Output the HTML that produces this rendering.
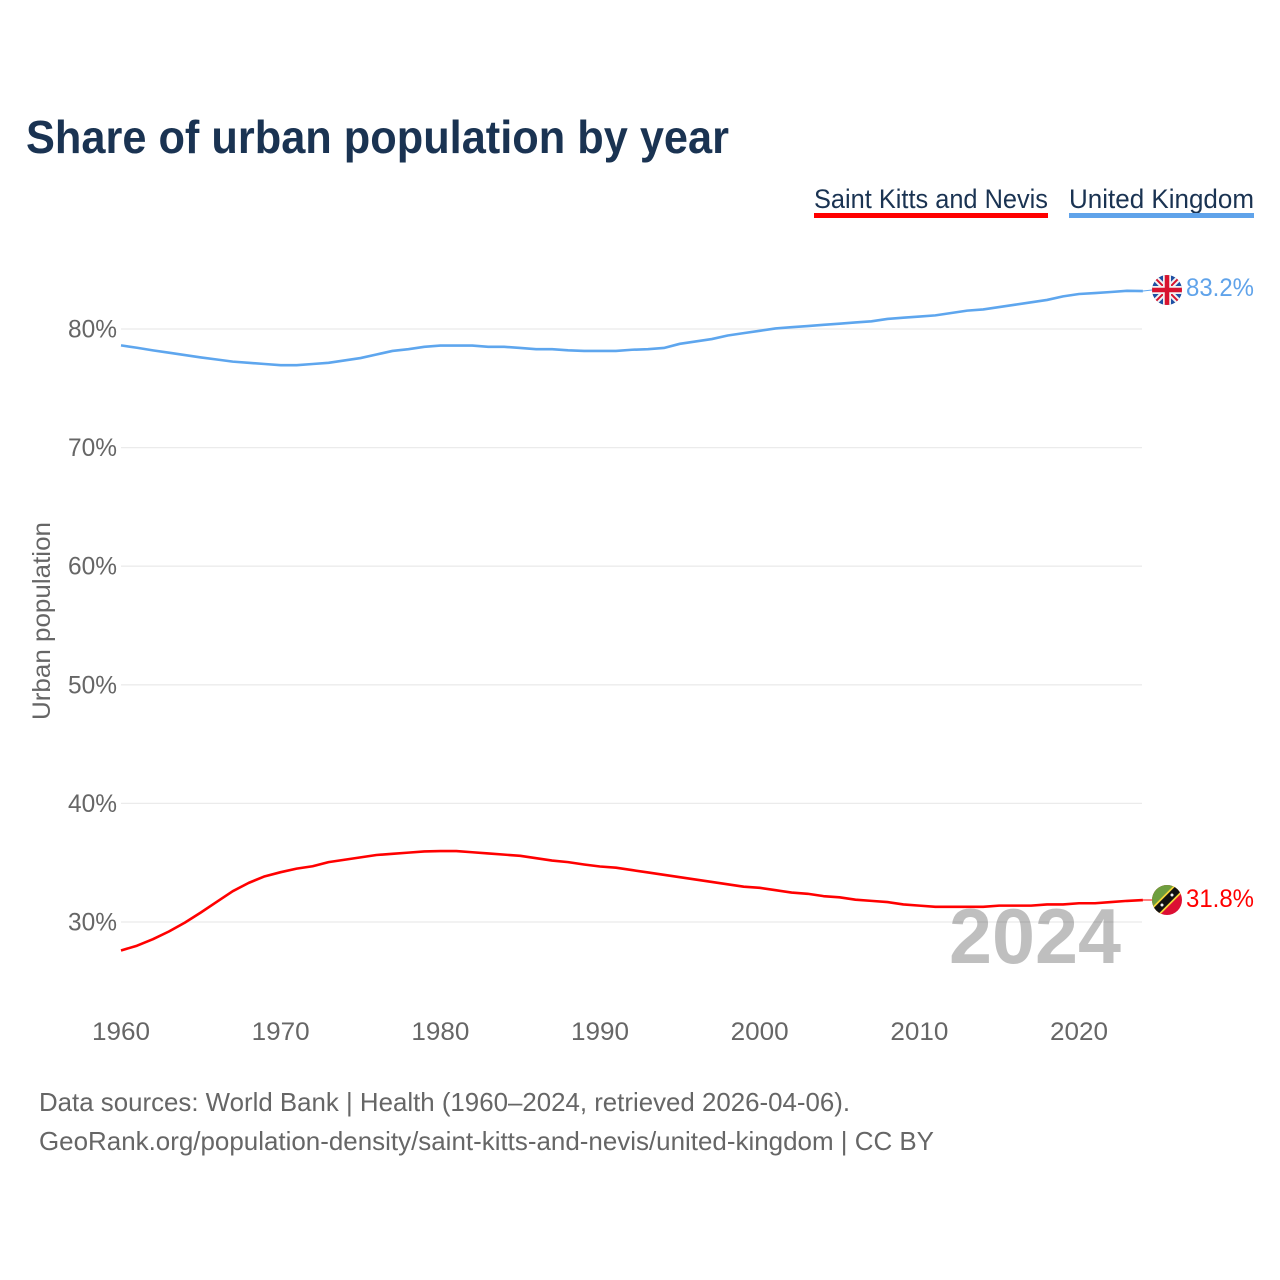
<!DOCTYPE html>
<html lang="en">
<head>
<meta charset="utf-8">
<title>Share of urban population by year</title>
<style>
html,body{margin:0;padding:0;background:#fff;width:1280px;height:1280px;overflow:hidden}
svg{display:block;font-family:"Liberation Sans",sans-serif}
</style>
</head>
<body>
<svg id="chart" xmlns="http://www.w3.org/2000/svg" width="1280" height="1280" viewBox="0 0 1280 1280">
<defs>
<clipPath id="flag-clip-uk"><circle cx="1167" cy="290" r="15"/></clipPath>
<clipPath id="flag-clip-kn"><circle cx="1167" cy="900" r="15"/></clipPath>
</defs>
<text x="26" y="153" font-size="46" font-weight="700" fill="#1a3352" textLength="703" lengthAdjust="spacingAndGlyphs">Share of urban population by year</text>
<g>
<g>
<text x="814" y="208" font-size="27" fill="#1a3352" textLength="234" lengthAdjust="spacingAndGlyphs">Saint Kitts and Nevis</text>
<rect x="814" y="213" width="234" height="5" fill="#ff0000"/>
</g>
<g>
<text x="1069" y="208" font-size="27" fill="#1a3352" textLength="185" lengthAdjust="spacingAndGlyphs">United Kingdom</text>
<rect x="1069" y="213" width="185" height="5" fill="#60a3ea"/>
</g>
</g>
<g id="grid"></g>
<g id="yticks"></g>
<g id="xticks"></g>
<text transform="translate(50 621) rotate(-90)" text-anchor="middle" font-size="25" fill="#666666" textLength="198" lengthAdjust="spacingAndGlyphs">Urban population</text>
<text x="949" y="963" font-size="78" font-weight="700" fill="#000000" fill-opacity="0.25" textLength="172" lengthAdjust="spacingAndGlyphs">2024</text>
<g id="series"></g>
<g clip-path="url(#flag-clip-uk)">
<rect x="1152" y="275" width="30" height="30" fill="#1f4fa3"/>
<path d="M1152 275L1182 305M1182 275L1152 305" stroke="#f2f2f2" stroke-width="6"/>
<path d="M1152 275L1182 305M1182 275L1152 305" stroke="#d8132f" stroke-width="2"/>
<path d="M1167 275V305M1152 290H1182" stroke="#f2f2f2" stroke-width="8"/>
<path d="M1167 275V305M1152 290H1182" stroke="#d8132f" stroke-width="4.5"/>
</g>
<g clip-path="url(#flag-clip-kn)">
<rect x="1152" y="885" width="30" height="30" fill="#dc0f33"/>
<path d="M1152 885H1182L1152 915Z" fill="#6e9e3e"/>
<path d="M1150 917L1184 883" stroke="#f4d63a" stroke-width="11"/>
<path d="M1150 917L1184 883" stroke="#111111" stroke-width="7.5"/>
<circle cx="1162" cy="905" r="1.5" fill="#f2f2f2"/>
<circle cx="1172" cy="895" r="1.5" fill="#f2f2f2"/>
</g>
<text id="end-uk" x="1186" y="296" font-size="25" fill="#60a3ea" textLength="68" lengthAdjust="spacingAndGlyphs">83.2%</text>
<text id="end-kn" x="1186" y="907" font-size="25" fill="#ff0000" textLength="68" lengthAdjust="spacingAndGlyphs">31.8%</text>
<g>
<text x="39" y="1111" font-size="26" fill="#666666" textLength="811" lengthAdjust="spacingAndGlyphs">Data sources: World Bank | Health (1960–2024, retrieved 2026-04-06).</text>
<text x="39" y="1150" font-size="26" fill="#666666" textLength="895" lengthAdjust="spacingAndGlyphs">GeoRank.org/population-density/saint-kitts-and-nevis/united-kingdom | CC BY</text>
</g>
</svg>
<script>
const years = [1960,1961,1962,1963,1964,1965,1966,1967,1968,1969,1970,1971,1972,1973,1974,1975,1976,1977,1978,1979,1980,1981,1982,1983,1984,1985,1986,1987,1988,1989,1990,1991,1992,1993,1994,1995,1996,1997,1998,1999,2000,2001,2002,2003,2004,2005,2006,2007,2008,2009,2010,2011,2012,2013,2014,2015,2016,2017,2018,2019,2020,2021,2022,2023,2024];
const unitedKingdom = [78.62,78.42,78.2,78.0,77.8,77.6,77.43,77.25,77.15,77.05,76.95,76.95,77.05,77.15,77.35,77.55,77.85,78.15,78.3,78.5,78.6,78.6,78.6,78.5,78.5,78.4,78.3,78.3,78.2,78.15,78.15,78.15,78.25,78.3,78.4,78.75,78.95,79.15,79.45,79.65,79.85,80.05,80.15,80.25,80.35,80.45,80.55,80.65,80.85,80.95,81.05,81.15,81.35,81.55,81.65,81.85,82.05,82.25,82.45,82.75,82.95,83.03,83.12,83.22,83.2];
const saintKitts = [27.6,28.0,28.55,29.2,29.95,30.8,31.7,32.6,33.3,33.85,34.2,34.5,34.7,35.05,35.25,35.45,35.65,35.75,35.85,35.95,35.98,35.98,35.88,35.78,35.68,35.58,35.38,35.18,35.05,34.85,34.68,34.58,34.38,34.18,33.98,33.78,33.58,33.38,33.18,32.98,32.88,32.68,32.48,32.38,32.18,32.08,31.88,31.78,31.68,31.48,31.38,31.28,31.28,31.28,31.28,31.38,31.38,31.38,31.48,31.48,31.58,31.58,31.68,31.78,31.85];
const yTickValues = [30,40,50,60,70,80];
const xTickValues = [1960,1970,1980,1990,2000,2010,2020];

const NS = 'http://www.w3.org/2000/svg';
const xScale = function (year) { return 121 + (year - 1960) * 15.967; };
const yScale = function (value) { return 329 + (80 - value) * 11.86; };

function make(tag, parent, attrs, text) {
  const el = document.createElementNS(NS, tag);
  Object.keys(attrs).forEach(function (k) { el.setAttribute(k, attrs[k]); });
  if (text !== undefined) el.textContent = text;
  parent.appendChild(el);
  return el;
}

const gridGroup = document.getElementById('grid');
const yGroup = document.getElementById('yticks');
const xGroup = document.getElementById('xticks');
const seriesGroup = document.getElementById('series');

yTickValues.forEach(function (v) {
  const line = make('line', gridGroup, {x1: 121, x2: 1142, y1: yScale(v), y2: yScale(v), stroke: '#ebebeb', 'stroke-width': 1.3});
  
  
  const label = make('text', yGroup, {x: 117, y: yScale(v) + 8.5, 'text-anchor': 'end', 'font-size': 25, fill: '#666666', textLength: 49, lengthAdjust: 'spacingAndGlyphs'}, v + '%');
  
  
});

xTickValues.forEach(function (y) {
  const label = make('text', xGroup, {x: xScale(y), y: 1040, 'text-anchor': 'middle', 'font-size': 25, fill: '#666666', textLength: 58, lengthAdjust: 'spacingAndGlyphs'}, String(y));
  
  
});

function linePath(values) {
  return values.map(function (v, i) {
    return (i ? 'L' : 'M') + xScale(years[i]).toFixed(2) + ' ' + yScale(v).toFixed(2);
  }).join(' ');
}

function drawSeries(values, color, key, flagY) {
  const last = values[values.length - 1];
  const leader = make('line', seriesGroup, {x1: xScale(years[years.length - 1]), x2: 1152, y1: yScale(last), y2: flagY, stroke: color, 'stroke-width': 1});
  
  
  const path = make('path', seriesGroup, {d: linePath(values), fill: 'none', stroke: color, 'stroke-width': 2.6, 'stroke-linejoin': 'round'});
  
  
}

drawSeries(unitedKingdom, '#5ea6ee', 'united-kingdom', 290);
drawSeries(saintKitts, '#ff0000', 'saint-kitts-and-nevis', 900);
</script>
</body>
</html>
